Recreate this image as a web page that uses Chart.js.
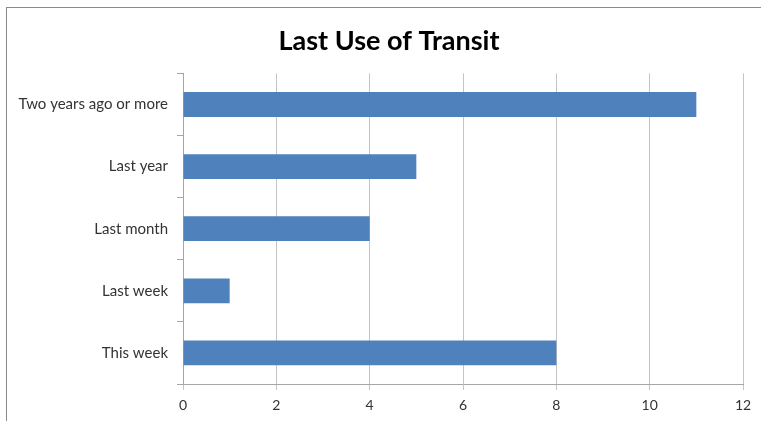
<!DOCTYPE html>
<html>
<head>
<meta charset="utf-8">
<script src="https://cdn.jsdelivr.net/npm/chart.js@4.4.0/dist/chart.umd.min.js"></script>
<style>
  html, body { margin: 0; padding: 0; background: #fff; }
  body { width: 761px; height: 421px; position: relative; overflow: hidden; }
  #frame { position: absolute; left: 6px; top: 7px; width: 755px; height: 414px; border-left: 1px solid #8a8a8a; border-top: 1px solid #8a8a8a; box-sizing: border-box; }
  #wrap { position: absolute; left: 1px; top: 1px; width: 754px; height: 413px; }
</style>
</head>
<body>
<div id="frame"><div id="wrap"><canvas id="c"></canvas></div></div>
<script>
const chartTitle = 'Last Use of Transit';
const categories = ['Two years ago or more', 'Last year', 'Last month', 'Last week', 'This week'];
const counts = [11, 5, 4, 1, 8];
const xTicks = [0, 2, 4, 6, 8, 10, 12];

const FONT = 'Lato, "Open Sans", sans-serif';

const shiftTitle = {
  id: 'shiftTitle',
  afterLayout(chart) {
    if (chart.titleBlock) {
      chart.titleBlock.left = 27;
      chart.titleBlock.right = 735;
    }
  }
};

new Chart(document.getElementById('c'), {
  type: 'bar',
  plugins: [shiftTitle],
  data: {
    labels: categories,
    datasets: [{
      data: counts,
      backgroundColor: '#4f81bd',
      borderWidth: 0,
      categoryPercentage: 1,
      barPercentage: 0.4
    }]
  },
  options: {
    indexAxis: 'y',
    responsive: true,
    maintainAspectRatio: false,
    animation: false,
    layout: { padding: { left: 0, right: 19, top: 0, bottom: 0 } },
    plugins: {
      legend: { display: false },
      tooltip: { enabled: false },
      title: {
        display: true,
        text: chartTitle,
        color: '#000',
        font: { family: FONT, size: 27, weight: 'bold' },
        padding: { top: 16, bottom: 16 }
      }
    },
    scales: {
      x: {
        min: xTicks[0],
        max: xTicks[xTicks.length - 1],
        afterBuildTicks: (s) => { s.ticks = xTicks.map(v => ({ value: v })); },
        afterFit: (s) => { s.height = 38; },
        grid: { color: '#c4c4c4', lineWidth: 1, tickLength: 6, drawTicks: true },
        border: { color: '#a6a6a6' },
        ticks: { color: '#333', font: { family: FONT, size: 14 }, padding: 7 }
      },
      y: {
        afterFit: (s) => { s.width = 175; },
        grid: { drawOnChartArea: false, offset: true, tickLength: 6, color: '#a6a6a6' },
        border: { color: '#a6a6a6' },
        ticks: { color: '#333', font: { family: FONT, size: 15 }, padding: 9 }
      }
    }
  }
});
</script>
</body>
</html>
